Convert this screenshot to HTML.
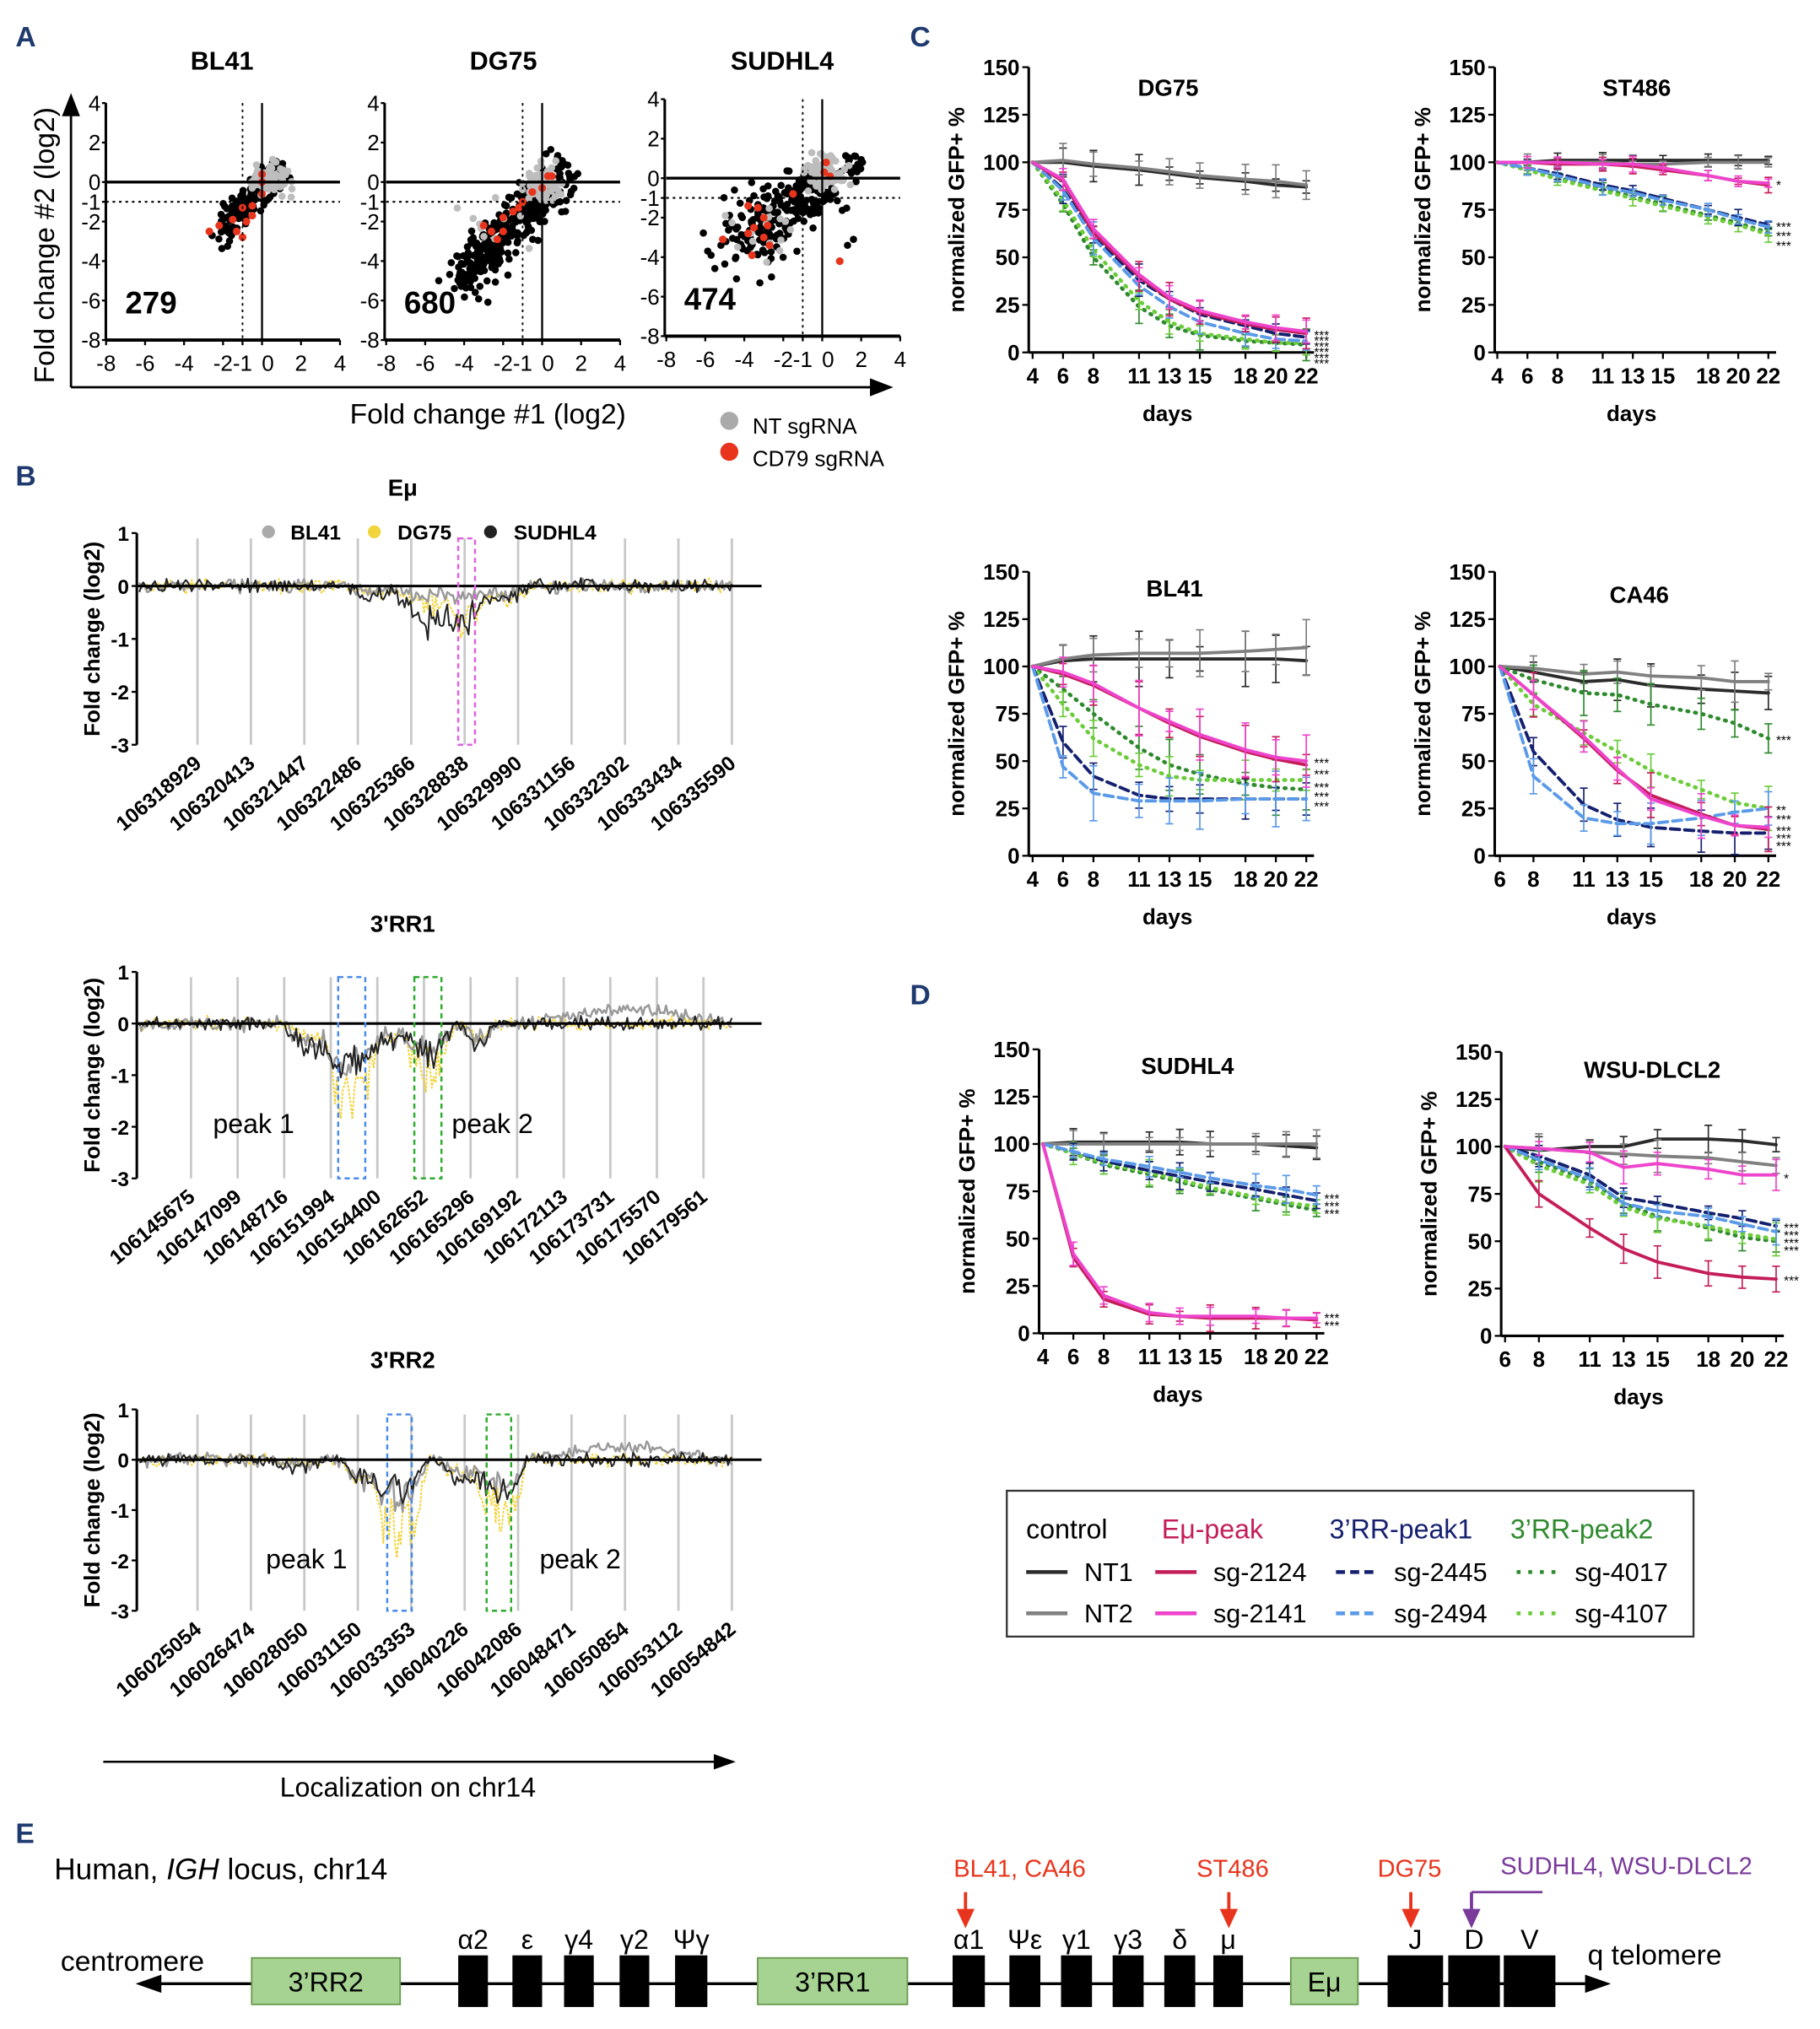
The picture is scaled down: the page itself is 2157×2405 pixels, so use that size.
<!DOCTYPE html>
<html><head><meta charset="utf-8"><style>
html,body{margin:0;padding:0;background:#fff;}
svg{display:block;}
text{font-family:"Liberation Sans",Arial,sans-serif;}
</style></head><body>
<svg id="s" xmlns="http://www.w3.org/2000/svg" width="2157" height="2405" viewBox="0 0 1410 1572">
<rect width="1410" height="1572" fill="#fff"/>
<g id="g"></g>
</svg>
<script>
var out=[];
function L(x1,y1,x2,y2,c,w,d){out.push('<line x1="'+x1+'" y1="'+y1+'" x2="'+x2+'" y2="'+y2+'" stroke="'+(c||'#000')+'" stroke-width="'+(w||1)+'"'+(d?' stroke-dasharray="'+d+'"':'')+'/>');}
function T(x,y,t,s,a,w,f,r,fam){out.push('<text x="'+x+'" y="'+y+'" font-size="'+s+'" text-anchor="'+(a||'start')+'" font-weight="'+(w||'normal')+'" fill="'+(f||'#000')+'"'+(r?' transform="rotate('+r+' '+x+' '+y+')"':'')+(fam?' font-family="'+fam+'"':'')+'>'+t+'</text>');}
function C(x,y,r,f){out.push('<circle cx="'+x.toFixed(1)+'" cy="'+y.toFixed(1)+'" r="'+r+'" fill="'+f+'"/>');}
function R(x,y,w,h,f,s,sw,d){out.push('<rect x="'+x+'" y="'+y+'" width="'+w+'" height="'+h+'" fill="'+(f||'none')+'"'+(s?' stroke="'+s+'" stroke-width="'+(sw||1)+'"':'')+(d?' stroke-dasharray="'+d+'"':'')+'/>');}
function P(pts,c,w,d,cap){out.push('<polyline fill="none" points="'+pts.map(function(p){return p[0].toFixed(1)+','+p[1].toFixed(1)}).join(' ')+'" stroke="'+c+'" stroke-width="'+w+'"'+(d?' stroke-dasharray="'+d+'"':'')+(cap?' stroke-linecap="round"':'')+' stroke-linejoin="round"/>');}
var seed=12345;function rnd(){seed=(seed*16807)%2147483647;return seed/2147483647;}
function gn(){return (rnd()+rnd()+rnd()-1.5)/0.5;}
var NAVY='#1f3a6e';
T(12,36,'A',22,'start','bold',NAVY);T(12,376,'B',22,'start','bold',NAVY);T(705,36,'C',22,'start','bold',NAVY);T(705,778,'D',22,'start','bold',NAVY);T(12,1428,'E',22,'start','bold',NAVY);
// ===== Panel A
function scat(ax,x0,y0,title,tx,num,mode){
 var sx=15.1,sy=15.3;
 function X(v){return x0+v*sx} function Y(v){return y0-v*sy}
 var xr=X(4);
 T(tx,54,title,20,'middle','bold');
 L(ax,Y(4),ax,Y(-8),'#000',2);
 L(ax,Y(-8),xr,Y(-8),'#000',2.5);
 [4,2,0,-1,-2,-4,-6,-8].forEach(function(v){L(ax-3,Y(v),ax,Y(v),'#000',1.5);T(ax-4,Y(v)+6,v,17,'end','normal','#000',0);});
 [-8,-6,-4,-2,-1,0,2,4].forEach(function(v){L(X(v),Y(-8),X(v),Y(-8)+4,'#000',1.5);});
 [[-8,'-8'],[-6,'-6'],[-4,'-4'],[-1.5,'-2-1'],[0.3,'0'],[2,'2'],[4,'4']].forEach(function(a){T(X(a[0]),Y(-8)+24,a[1],17,'middle');});
 var n=mode==0?120:(mode==1?330:230);
 for(var i=0;i<n;i++){var t=rnd(),x,y;
  if(mode==0){x=-2.2+t*3.2+gn()*0.35;y=-2.8+t*3.6+gn()*0.4;}
  else if(mode==1){x=-4.3+t*5.2+gn()*0.55;y=-5.3+t*5.8+gn()*0.55;}
  else {x=-4.2+t*4.5+gn()*0.8;y=-3.3+t*3.3+gn()*0.75;if(y>0.6)y=0.6-rnd()*0.5;}
  C(X(x),Y(y),2.8,'#000');}
 if(mode==2){[[-5.7,-3.9],[-5.2,-3.4],[-4.4,-5.1],[-3.2,-5.3],[-2.6,-5],[-1.3,-3.7],[1.3,-3.4],[1.6,-3.1],[-4.5,-0.6]].forEach(function(p){C(X(p[0]),Y(p[1]),2.8,'#000');});
  for(i=0;i<20;i++)C(X(1.2+rnd()*0.9),Y(0.2+rnd()*1),2.8,'#000');}
 var gx=mode==0?0.4:(mode==1?0:0.2),gy=mode==0?0:(mode==1?0:0.3);
 for(i=0;i<80;i++){C(X(gx+gn()*0.45),Y(gy+gn()*0.45),2.8,'#bdbdbd');}
 if(mode==2){for(i=0;i<15;i++)C(X(-3+gn()*1),Y(-2.5+gn()*0.8),2.8,'#bdbdbd');}
 if(mode==1){for(i=0;i<10;i++)C(X(-2.5+gn()*0.8),Y(-2.5+gn()*0.8),2.8,'#bdbdbd');}
 var rp=mode==0?[[0,0.4],[0,0],[0,-0.6],[-0.5,-1.2],[-1,-1.3],[-1.5,-1.9],[-2.2,-2.2],[-1.3,-2.5],[-1,-2.8],[-0.5,-1.7],[-2.7,-2.5],[-0.8,-2]]
  :mode==1?[[0.3,0.3],[0,-0.3],[0.5,0.3],[-1,-1],[-1.5,-1.5],[-2,-1.8],[-2.6,-2.5],[-2,-2.5],[-3,-2.2],[-1.2,-1.3],[-0.5,-0.5],[-2.3,-2.9]]
  :[[0.2,0.8],[0.1,0.3],[0.4,0.1],[-3.3,-1.5],[-3.8,-1.4],[-3,-2],[-3.5,-2.5],[-3,-3],[-2.7,-3.4],[-3.6,-3.9],[-5.1,-3.1],[-1.5,-0.8],[0.9,-4.2],[-2.8,-2.4],[-3.8,-2.8]];
 rp.forEach(function(p){C(X(p[0]),Y(p[1]),3,'#e8341c');});
 L(X(-8),Y(0),xr,Y(0),'#000',2.2);
 L(X(0),Y(4),X(0),Y(-8),'#000',1.5);
 L(X(-1),Y(4),X(-1),Y(-8),'#000',1.2,'2,3');
 L(X(-8),Y(-1),xr,Y(-1),'#000',1.4,'2,3');
 T(ax+15,Y(-6)+10,num,24,'start','bold');
}
scat(82,203,141,'BL41',172,'279',0);
scat(298,420,141,'DG75',390,'680',1);
scat(515,637,138,'SUDHL4',606,'474',2);
L(55,300,55,88,'#000',1.8);out.push('<polygon points="55,72 48,90 62,90" fill="#000"/>');
L(55,300,675,300,'#000',1.8);out.push('<polygon points="692,300 674,293 674,307" fill="#000"/>');
T(42,190,'Fold change #2 (log2)',22,'middle','normal','#000',-90);
T(378,328,'Fold change #1 (log2)',22,'middle');
C(565,326,7,'#aaa');T(583,336,'NT sgRNA',17);
C(565,350,7,'#e8341c');T(583,361,'CD79 sgRNA',17);
// ===== Panel B
var AX=106;
function track(title,ty,y1,labels,lx0,lx1,dips,rects,peaks,cfg){
 var sy=(cfg.y0-y1);
 function Y(v){return cfg.y0-v*sy}
 T(312,ty,title,18,'middle','bold');
 var n=labels.length;
 for(var i=0;i<n;i++){var x=lx0+i*(lx1-lx0)/(n-1);L(x,Y(0.9),x,Y(-3),'#c8c8c8',1.8);
  T(x+4,Y(-3)+16,labels[i],16,'end','bold','#000',-40);}
 L(AX,Y(1),AX,Y(-3),'#000',2);
 [1,0,-1,-2,-3].forEach(function(v){L(AX-4,Y(v),AX,Y(v),'#000',1.5);T(AX-6,Y(v)+6,v,16,'end','bold');});
 T(77,Y(-1),'Fold change (log2)',17,'middle','bold','#000',-90);
 var cols=[['#f2d43c',1.3],['#999',1.6],['#222',1.3]];
 cols.forEach(function(c,k){var pts=[];
  for(var x=AX+2;x<=568;x+=1.5){var v=gn()*0.06+(cfg.bump&&k==1&&x>410&&x<560?0.25*Math.sin((x-410)/150*Math.PI):0);
   dips.forEach(function(d){var dd=(x-d[0])/d[1];if(Math.abs(dd)<1){var a=d[2+k]*(1-dd*dd);v-=a*(0.5+rnd()*0.8);}});
   pts.push([x,Y(v)]);}
  P(pts,c[0],c[1],k==0?'2,1':null);});
 L(AX,Y(0),590,Y(0),'#000',2);
 rects.forEach(function(r){R(r[0],Y(0.9),r[1]-r[0],Y(-3)-Y(0.9),'none',r[2],1.6,'4,3');});
 peaks.forEach(function(p){T(p[0],p[1],p[2],21,'start');});
 if(cfg.legend){C(208,412,5,'#aaa');T(225,418,'BL41',16,'start','bold');C(290,412,5,'#f2d43c');T(308,418,'DG75',16,'start','bold');C(380,412,5,'#222');T(398,418,'SUDHL4',16,'start','bold');}
}
track('Eμ',384,413,['106318929','106320413','106321447','106322486','106325366','106328838','106329990','106331156','106332302','106333434','106335590'],153,567,
 [[335,30,0.4,0.2,0.7],[362,15,0.7,0.2,0.6],[290,25,0.1,0.1,0.2],[390,25,0.3,0.15,0.25]],[[355,368,'#e060e0']],[],{y0:454,legend:1});
track("3'RR1",722,753,['106145675','106147099','106148716','106151994','106154400','106162652','106165296','106169192','106172113','106173731','106175570','106179561'],148,545,
 [[272,22,1.6,0.8,0.8],[245,25,0.3,0.4,0.5],[332,20,1.1,0.6,0.6],[300,20,0.3,0.3,0.4],[370,15,0.2,0.3,0.4]],[[262,283,'#4a8ae8'],[321,342,'#2eaa2e']],[[165,878,'peak 1'],[350,878,'peak 2']],{y0:793,bump:1});
track("3'RR2",1060,1092,['106025054','106026474','106028050','106031150','106033353','106040226','106042086','106048471','106050854','106053112','106054842'],153,567,
 [[310,22,1.6,0.8,0.6],[285,20,0.4,0.4,0.4],[388,20,1.2,0.5,0.7],[360,20,0.4,0.3,0.4],[230,20,0.1,0.1,0.15]],[[300,319,'#4a8ae8'],[377,396,'#2eaa2e']],[[206,1215,'peak 1'],[418,1215,'peak 2']],{y0:1131,bump:1});
L(80,1365,555,1365,'#000',1.6);out.push('<polygon points="570,1365 553,1359 553,1371" fill="#000"/>');
T(316,1392,'Localization on chr14',21,'middle');
// ===== Panels C/D
var S={NT1:['#2b2b2b',2.5,null],NT2:['#808080',2.5,null],a:['#c41e5a',2.5,null],b:['#ee44cc',2.5,null],c:['#15206e',2.5,'7,4'],d:['#5a9ae8',2.5,'7,4'],e:['#2f8a2f',3,'1,5'],f:['#6ccc3a',3,'1,5']};
function plot(o){
 var d0=o.days[0],d1=o.days[o.days.length-1];
 function X(d){return o.x0+(d-d0)*(o.x1-o.x0)/(d1-d0)}
 function Y(v){return o.yb-v*(o.yb-o.yt)/150}
 T(o.tx,o.ty,o.title,18,'middle','bold');
 L(o.ax,o.yt,o.ax,o.yb,'#000',2);L(o.ax,o.yb,o.x1+6,o.yb,'#000',2);
 for(var v=0;v<=150;v+=25){L(o.ax-5,Y(v),o.ax,Y(v),'#000',1.5);T(o.ax-7,Y(v)+6,v,17,'end','bold');}
 o.days.forEach(function(d){L(X(d),o.yb,X(d),o.yb+5,'#000',1.5);T(X(d),o.yb+24,d,17,'middle','bold');});
 T(o.ax-50,(o.yt+o.yb)/2,'normalized GFP+ %',17,'middle','bold','#000',-90);
 T((o.ax+o.x1)/2,o.yb+53,'days',17,'middle','bold');
 Object.keys(o.data).forEach(function(k){var s=S[k],pts=[];
  o.data[k].forEach(function(v,i){pts.push([X(o.days[i]),Y(v)]);if(i>0){var e=(o.err||4)*(0.5+rnd());L(X(o.days[i]),Y(v+e),X(o.days[i]),Y(v-e),s[0],1.1);L(X(o.days[i])-3,Y(v+e),X(o.days[i])+3,Y(v+e),s[0],1.1);L(X(o.days[i])-3,Y(v-e),X(o.days[i])+3,Y(v-e),s[0],1.1);}});
  P(pts,s[0],s[1],s[2],true);});
 (o.stars||[]).forEach(function(s){T(o.x1+6,Y(s[0])+5,s[1],10,'start','normal');});
}
var D9=[4,6,8,11,13,15,18,20,22],D8=[6,8,11,13,15,18,20,22];
plot({title:'DG75',tx:905,ty:74,ax:797,x0:800,x1:1012,yt:52,yb:273,days:D9,err:6,
 data:{NT1:[100,100,98,96,94,92,90,88,87],NT2:[100,101,99,97,95,93,91,90,88],e:[100,78,50,24,14,9,6,5,4],f:[100,80,54,27,16,10,7,5,5],c:[100,86,62,38,28,20,14,10,8],d:[100,85,60,35,24,16,10,7,6],a:[100,90,63,40,28,21,15,12,10],b:[100,91,65,41,29,22,16,13,11]},
 stars:[[10,'***'],[7,'***'],[4,'***'],[1,'***'],[-2,'***'],[-5,'***']]});
plot({title:'ST486',tx:1268,ty:74,ax:1158,x0:1160,x1:1370,yt:52,yb:273,days:D9,err:3,
 data:{NT1:[100,100,101,101,101,101,101,101,101],NT2:[100,100,100,100,99,99,100,100,100],e:[100,96,92,86,82,78,72,68,63],f:[100,96,91,85,81,77,71,67,62],c:[100,97,94,88,85,81,75,71,67],d:[100,97,93,87,84,80,75,70,66],a:[100,100,99,99,98,96,93,90,88],b:[100,100,100,99,99,97,93,90,89]},
 stars:[[89,'*'],[67,'***'],[62,'***'],[57,'***']]});
plot({title:'BL41',tx:910,ty:462,ax:797,x0:800,x1:1012,yt:443,yb:663,days:D9,err:10,
 data:{NT1:[100,103,104,104,104,104,104,104,103],NT2:[100,104,106,107,107,107,108,109,110],e:[100,88,75,57,48,43,38,36,35],f:[100,80,62,48,42,40,40,40,40],c:[100,60,42,32,30,30,30,30,30],d:[100,47,33,29,29,29,30,30,30],a:[100,96,90,78,70,63,55,51,48],b:[100,97,91,78,71,64,56,52,50]},
 stars:[[50,'***'],[44,'***'],[37,'***'],[32,'***'],[27,'***']]});
plot({title:'CA46',tx:1270,ty:467,ax:1158,x0:1162,x1:1370,yt:443,yb:663,days:D8,err:8,
 data:{NT1:[100,97,92,93,90,88,87,86],NT2:[100,99,96,97,95,94,92,92],e:[100,93,86,85,80,75,70,62],f:[100,80,65,55,45,35,28,25],c:[100,55,27,19,15,13,12,12],d:[100,42,20,17,17,20,23,25],a:[100,85,62,45,32,22,16,14],b:[100,85,63,46,30,21,16,15]},
 stars:[[62,'***'],[25,'**'],[20,'***'],[14,'***'],[10,'***'],[6,'***']]});
plot({title:'SUDHL4',tx:920,ty:832,ax:805,x0:808,x1:1020,yt:813,yb:1033,days:D9,err:5,
 data:{NT1:[100,101,101,101,101,100,100,99,98],NT2:[100,100,100,100,100,100,100,100,100],e:[100,95,89,84,80,76,71,68,65],f:[100,95,90,85,81,77,72,69,67],c:[100,96,91,86,83,80,76,73,70],d:[100,96,92,88,85,82,78,76,73],a:[100,40,18,10,9,8,8,8,7],b:[100,42,20,11,9,9,9,8,8]},
 stars:[[72,'***'],[68,'***'],[64,'***'],[9,'***'],[5,'***']]});
plot({title:'WSU-DLCL2',tx:1280,ty:835,ax:1163,x0:1166,x1:1376,yt:815,yb:1035,days:D8,err:6,
 data:{NT1:[100,98,100,100,104,104,103,101],NT2:[100,99,97,96,95,94,92,90],e:[100,92,82,70,63,57,52,50],f:[100,90,80,68,62,58,54,51],c:[100,95,85,73,70,65,62,58],d:[100,93,83,70,66,63,59,55],a:[100,75,57,46,39,33,31,30],b:[100,99,97,89,91,88,85,85]},
 stars:[[84,'*'],[58,'***'],[54,'***'],[50,'***'],[46,'***'],[30,'***']]});
R(780,1155,532,113,'#fff','#333',1.5);
T(795,1192,'control',21);T(900,1192,'Eμ-peak',21,'start','normal','#c41e5a');T(1030,1192,"3’RR-peak1",21,'start','normal','#15206e');T(1170,1192,"3’RR-peak2",21,'start','normal','#2f8a2f');
function lg(x,y,k,t){var s=S[k];L(x,y,x+32,y,s[0],3,s[2]?(k=='e'||k=='f'?'3,6':'7,4'):null);T(x+45,y+7,t,20);}
lg(795,1218,'NT1','NT1');lg(795,1250,'NT2','NT2');lg(895,1218,'a','sg-2124');lg(895,1250,'b','sg-2141');
lg(1035,1218,'c','sg-2445');lg(1035,1250,'d','sg-2494');lg(1175,1218,'e','sg-4017');lg(1175,1250,'f','sg-4107');
// ===== Panel E
out.push('<text x="42" y="1456" font-size="23">Human, <tspan font-style="italic">IGH</tspan> locus, chr14</text>');
L(120,1537,1232,1537,'#000',2.2);
out.push('<polygon points="105,1537 125,1530 125,1544" fill="#000"/><polygon points="1248,1537 1228,1530 1228,1544" fill="#000"/>');
T(47,1527,'centromere',22);T(1230,1522,'q telomere',22);
function gbox(x1,x2,t){R(x1,1517,x2-x1,36,'#a6d392','#6a9a50',1.2);T((x1+x2)/2,1543,t,21,'middle');}
function bbox(x1,x2,t){R(x1,1515,x2-x1,40,'#000');T((x1+x2)/2,1510,t,21,'middle');}
gbox(195,310,"3’RR2");gbox(587,703,"3’RR1");gbox(1000,1052,'Eμ');
bbox(355,378,'α2');bbox(397,420,'ε');bbox(437,460,'γ4');bbox(480,503,'γ2');bbox(523,548,'Ψγ');
bbox(738,763,'α1');bbox(782,806,'Ψε');bbox(822,846,'γ1');bbox(862,886,'γ3');bbox(902,926,'δ');bbox(940,963,'μ');
bbox(1075,1118,'J');bbox(1122,1162,'D');bbox(1165,1205,'V');
function rarrow(x,c){L(x,1466,x,1482,c,2.5);out.push('<polygon points="'+x+',1494 '+(x-7)+',1479 '+(x+7)+',1479" fill="'+c+'"/>');}
T(790,1454,'BL41, CA46',19,'middle','normal','#e8341c');rarrow(748,'#e8341c');
T(955,1454,'ST486',19,'middle','normal','#e8341c');rarrow(952,'#e8341c');
T(1092,1454,'DG75',19,'middle','normal','#e8341c');rarrow(1093,'#e8341c');
T(1260,1452,'SUDHL4, WSU-DLCL2',19,'middle','normal','#7a3a9a');
L(1195,1466,1140,1466,'#7a3a9a',1.8);rarrow(1140,'#7a3a9a');
document.getElementById('g').innerHTML=out.join('');
</script>
</body></html>
